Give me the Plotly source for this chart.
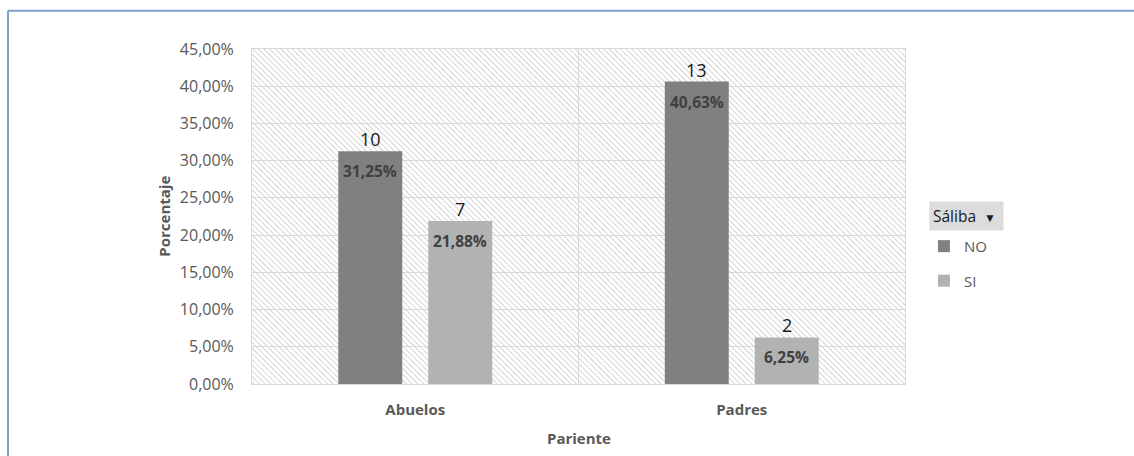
import base64
import plotly.graph_objects as go

# Data
categorias = ["Abuelos", "Padres"]
porc_no = [31.25, 40.63]
porc_si = [21.88, 6.25]
conteo_no = [10, 13]
conteo_si = [7, 2]
y_ticks = [0, 5, 10, 15, 20, 25, 30, 35, 40, 45]
y_ticktext = ["0,00%", "5,00%", "10,00%", "15,00%", "20,00%", "25,00%",
              "30,00%", "35,00%", "40,00%", "45,00%"]

COLOR_NO = "#808080"
COLOR_SI = "#b1b3b3"
FONT = "Open Sans"


def fmt_pct(v):
    return f"{v:.2f}".replace(".", ",") + "%"


# Diagonal hatch for the plot area background
W, H = 653, 335
svg = f"""<svg xmlns='http://www.w3.org/2000/svg' width='{W}' height='{H}' viewBox='0 0 {W} {H}' preserveAspectRatio='none'>
<defs><pattern id='h' width='4' height='4' patternUnits='userSpaceOnUse' patternTransform='rotate(-45)'>
<rect width='4' height='4' fill='#ffffff'/><line x1='0' y1='0' x2='0' y2='4' stroke='#cacaca' stroke-width='1.6'/></pattern></defs>
<rect width='{W}' height='{H}' fill='url(#h)'/></svg>"""
hatch_uri = "data:image/svg+xml;base64," + base64.b64encode(svg.encode()).decode()

fig = go.Figure()
for nombre, vals, color in [("NO", porc_no, COLOR_NO), ("SI", porc_si, COLOR_SI)]:
    fig.add_trace(go.Bar(
        name=nombre, x=categorias, y=vals, marker=dict(color=color, line=dict(width=0)),
        legendgroup=nombre, hoverinfo="skip",
    ))

# Count above each bar, percentage just inside its top
annotations = []
for vals, counts, shift in [(porc_no, conteo_no, -45), (porc_si, conteo_si, 45)]:
    for cat, v, c in zip(categorias, vals, counts):
        annotations.append(dict(
            x=cat, y=v, xref="x", yref="y", text=str(c), showarrow=False,
            xshift=shift, yanchor="middle", yshift=12,
            font=dict(family=FONT, size=18, color="#1a1a1a"),
        ))
        annotations.append(dict(
            x=cat, y=v, xref="x", yref="y", text=f"<b>{fmt_pct(v)}</b>", showarrow=False,
            xshift=shift, yanchor="middle", yshift=-20,
            font=dict(family=FONT, size=15.5, color="#404040"),
        ))

# Axis titles and legend header
annotations += [
    dict(x=-0.136, y=0.5, xref="paper", yref="paper", text="<b>Porcentaje</b>",
         textangle=-90, showarrow=False, xanchor="center", yanchor="middle",
         font=dict(family=FONT, size=15, color="#595959")),
    dict(x=0.5, y=-0.16, xref="paper", yref="paper", text="<b>Pariente</b>",
         showarrow=False, xanchor="center", yanchor="middle",
         font=dict(family=FONT, size=15, color="#595959")),
    dict(x=1.0375, y=0.501, xref="paper", yref="paper",
         text="Sáliba  <span style='font-size:12px'>▼</span> ",
         showarrow=False, xanchor="left", yanchor="middle", bgcolor="#dcdcdc",
         borderpad=3, font=dict(family=FONT, size=15.5, color="#1a1a1a")),
]

fig.update_layout(
    width=1134, height=456,
    margin=dict(l=252, r=229, t=49, b=72),
    paper_bgcolor="white", plot_bgcolor="rgba(0,0,0,0)",
    barmode="group", bargap=0.449, bargroupgap=0.289,
    font=dict(family=FONT, color="#595959"),
    showlegend=True,
    legend=dict(x=1.029, y=0.46, xanchor="left", yanchor="top", traceorder="grouped",
                tracegroupgap=12, font=dict(family=FONT, size=15, color="#595959"),
                itemwidth=30, bgcolor="rgba(0,0,0,0)"),
    annotations=annotations,
    images=[dict(source=hatch_uri, xref="paper", yref="paper", x=0, y=1, sizex=1, sizey=1,
                 sizing="stretch", xanchor="left", yanchor="top", layer="below")],
    shapes=[
        dict(type="line", xref="paper", yref="paper", x0=-0.3737, x1=1.36, y0=1.114, y1=1.114,
             line=dict(color="#7f9fc8", width=2)),
        dict(type="line", xref="paper", yref="paper", x0=-0.3737, x1=-0.3737, y0=1.114, y1=-0.25,
             line=dict(color="#7f9fc8", width=2)),
    ],
)

fig.update_xaxes(
    tickson="boundaries", showgrid=True, gridcolor="#d9d9d9", gridwidth=1,
    showline=True, linecolor="#d9d9d9", mirror=True, ticks="",
    tickfont=dict(family=FONT, size=15, color="#595959", weight="bold"),
    ticklabelstandoff=12,
)
fig.update_yaxes(
    range=[0, 45], tickvals=y_ticks, ticktext=y_ticktext,
    showgrid=True, gridcolor="#d9d9d9", gridwidth=1, zeroline=False,
    showline=True, linecolor="#d9d9d9", mirror=True, ticks="",
    tickfont=dict(family=FONT, size=16, color="#595959"),
    ticklabelstandoff=14,
)

fig.write_html("out.html")
